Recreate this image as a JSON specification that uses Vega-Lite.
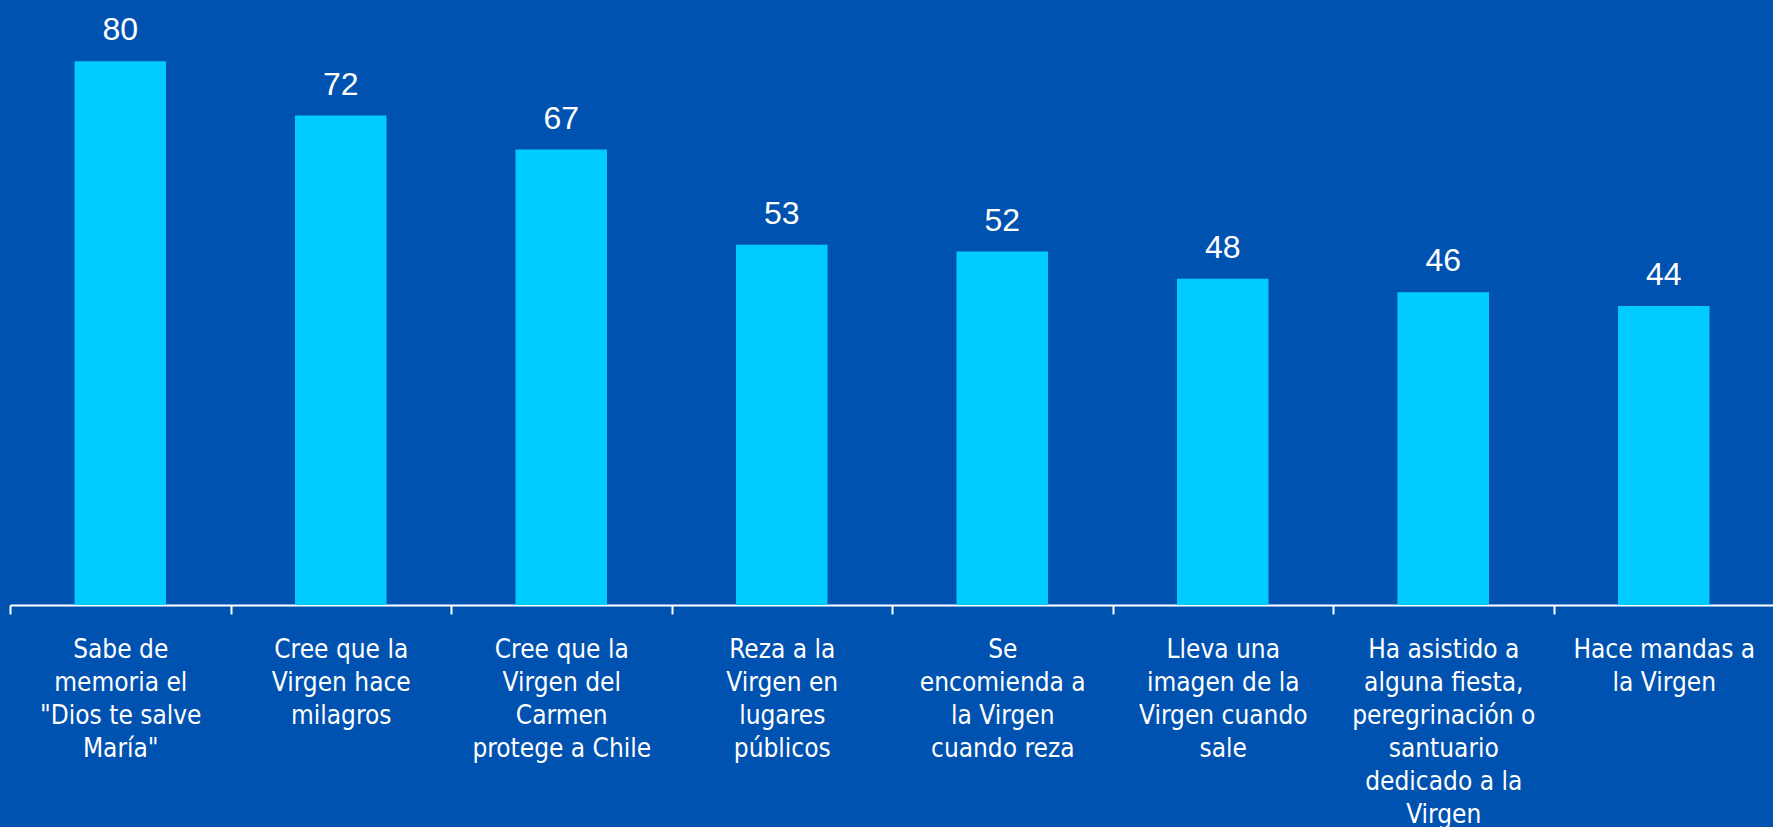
{
  "$schema": "https://vega.github.io/schema/vega-lite/v6.json",
  "width": 1764,
  "height": 605,
  "padding": {"left": 9, "top": 0, "right": 0, "bottom": 0},
  "background": "#0052B0",
  "config": {"view": {"stroke": null}},
  "data": {
    "values": [
      {"item": "Sabe de|memoria el|\"Dios te salve|María\"", "value": 80},
      {"item": "Cree que la|Virgen hace|milagros", "value": 72},
      {"item": "Cree que la|Virgen del|Carmen|protege a Chile", "value": 67},
      {"item": "Reza a la|Virgen en|lugares|públicos", "value": 53},
      {"item": "Se|encomienda a|la Virgen|cuando reza", "value": 52},
      {"item": "Lleva una|imagen de la|Virgen cuando|sale", "value": 48},
      {"item": "Ha asistido a|alguna fiesta,|peregrinación o|santuario|dedicado a la|Virgen", "value": 46},
      {"item": "Hace mandas a|la Virgen", "value": 44}
    ]
  },
  "encoding": {
    "x": {
      "field": "item",
      "type": "nominal",
      "sort": null,
      "scale": {"paddingInner": 0, "paddingOuter": 0},
      "axis": {
        "title": null,
        "labelAngle": 0,
        "labelExpr": "split(datum.label, '|')",
        "labelFont": "DejaVu Sans Condensed",
        "labelFontSize": 26,
        "labelLineHeight": 33,
        "labelColor": "white",
        "labelPadding": 22,
        "labelLimit": 0,
        "labelBaseline": "top",
        "domainColor": "white",
        "domainWidth": 2,
        "tickColor": "white",
        "tickWidth": 2,
        "tickSize": 9,
        "tickBand": "extent"
      }
    },
    "y": {
      "field": "value",
      "type": "quantitative",
      "scale": {"domain": [0, 89], "nice": false, "zero": true},
      "axis": null
    }
  },
  "layer": [
    {
      "mark": {"type": "bar", "color": "#00CCFF", "width": {"band": 0.415}}
    },
    {
      "mark": {
        "type": "text",
        "color": "white",
        "font": "Liberation Sans",
        "fontSize": 32,
        "baseline": "alphabetic",
        "dy": -21
      },
      "encoding": {"text": {"field": "value", "type": "quantitative"}}
    }
  ]
}
